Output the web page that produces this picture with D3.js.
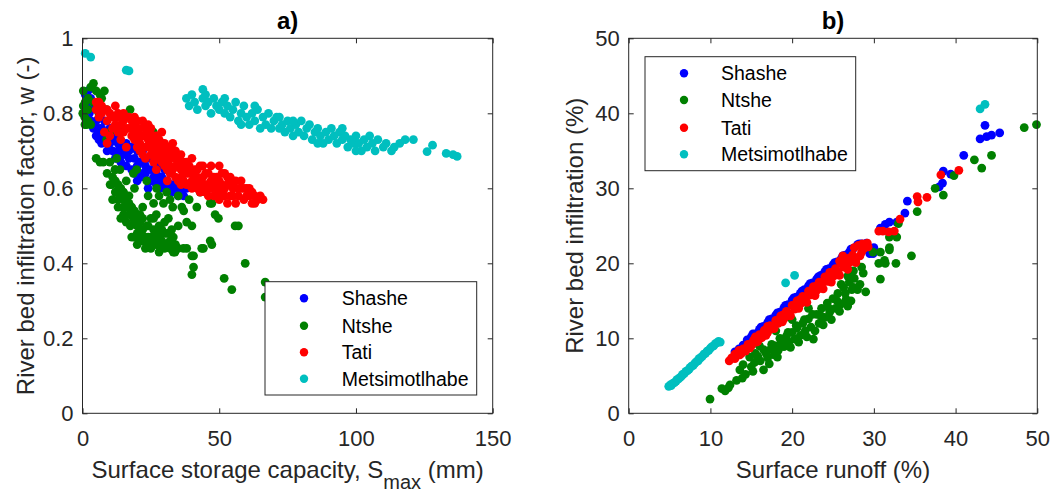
<!DOCTYPE html>
<html>
<head>
<meta charset="utf-8">
<script src="https://cdn.jsdelivr.net/npm/d3@7"></script>
<style>
  body { margin: 0; background: #fff; }
  text { font-family: "Liberation Sans", Arial, Helvetica, sans-serif; fill: #262626; }
</style>
</head>
<body>
<svg id="fig" width="1062" height="494"></svg>
<script>
// series names and colours (matlab style)
const seriesNames = ["Shashe", "Ntshe", "Tati", "Metsimotlhabe"];
const seriesColors = ["#0000ff", "#008000", "#ff0000", "#00bfbf"];

// panel a) : [Smax (mm), w (-)]
const aShashe = [[1,0.85],[2,0.86],[1.5,0.82],[3,0.84],[2.5,0.8],[4,0.82],[4,0.76],[5,0.74],[6,0.76],[6,0.73],[7,0.72],[8,0.74],[9,0.7],[10,0.72],[11,0.7],[12,0.68],[13,0.7],[14,0.67],[15,0.69],[16,0.66],[17,0.68],[18,0.65],[19,0.64],[20,0.66],[21,0.63],[22,0.64],[23,0.66],[24,0.62],[25,0.65],[26,0.63],[27,0.61],[28,0.63],[29,0.61],[30,0.6],[31,0.62],[32,0.6],[33,0.59],[34,0.61],[35,0.6],[36,0.59],[36.3,0.585],[37,0.58],[38,0.6],[12,0.74],[16,0.72],[20,0.7],[24,0.68],[28,0.66],[8,0.78],[10,0.76],[14,0.75],[18,0.71],[22,0.7],[26,0.68],[30,0.65],[6.4,0.755],[22.2,0.631],[29.6,0.613],[3,0.78],[5,0.78],[7,0.76],[9,0.73],[11,0.73],[13,0.72],[15,0.71],[17,0.7],[19,0.68],[21,0.67],[23,0.64],[25,0.62],[27,0.64],[29,0.63],[31,0.6],[33,0.61],[35,0.58],[37,0.6],[20,0.62],[24,0.6],[28,0.6]];
const aNtshe = [[0.3,0.86],[0.3,0.82],[0.1,0.8],[0.8,0.79],[0.9,0.77],[1.5,0.77],[2,0.84],[3,0.87],[4,0.88],[5,0.86],[6.4,0.85],[8,0.86],[2,0.81],[8.8,0.81],[17.4,0.81],[25.9,0.75],[10,0.75],[8.8,0.73],[6.4,0.67],[7.6,0.67],[10,0.67],[12.5,0.68],[11.9,0.65],[13.7,0.65],[10.1,0.61],[10.7,0.61],[18.6,0.64],[19.8,0.65],[23.5,0.62],[27.1,0.6],[30.8,0.59],[43,0.59],[46.7,0.56],[48.5,0.53],[55.8,0.5],[57,0.5],[12,0.59],[13,0.57],[14.9,0.55],[16,0.58],[15,0.53],[17,0.56],[18.6,0.52],[17.5,0.5],[19,0.54],[20,0.5],[21,0.53],[22,0.55],[21,0.48],[23.5,0.5],[22,0.46],[21,0.46],[24,0.47],[25,0.52],[26,0.49],[27,0.45],[28.4,0.44],[28,0.5],[29,0.46],[29.6,0.56],[30,0.48],[31.4,0.52],[32.6,0.49],[33.2,0.47],[33.8,0.43],[33.2,0.43],[36.3,0.55],[36.9,0.44],[38.1,0.51],[38.1,0.44],[40,0.42],[40.6,0.42],[41.8,0.55],[43.6,0.44],[44.2,0.44],[46.7,0.46],[47.3,0.45],[47.3,0.56],[49.7,0.52],[40.6,0.39],[40,0.37],[51.8,0.36],[54.6,0.33],[59.5,0.4],[66.8,0.35],[66.8,0.31],[14,0.6],[16,0.62],[19,0.6],[24,0.58],[26,0.56],[18,0.47],[20,0.45],[23,0.44],[25,0.44],[27,0.53],[31,0.45],[11,0.63],[12,0.62],[13,0.61],[14,0.58],[15,0.57],[16,0.55],[17,0.53],[18,0.55],[19,0.51],[20,0.53],[20,0.48],[21,0.51],[22,0.49],[22,0.52],[23,0.47],[24,0.5],[24,0.45],[25,0.47],[26,0.46],[26,0.52],[27,0.48],[28,0.47],[28,0.43],[29,0.49],[30,0.44],[30,0.51],[31,0.48],[32,0.44],[32,0.46],[34,0.45],[35,0.44],[35,0.5],[13,0.55],[15,0.59],[17,0.58],[12,0.65],[9,0.64],[11,0.57],[14,0.52],[16,0.51],[19,0.47],[5,0.68],[3,0.77],[1,0.83],[2,0.78],[6,0.8],[7,0.84],[4,0.83],[37,0.54],[40,0.5],[39,0.57],[45,0.6],[35,0.58],[33,0.55],[28,0.58],[32,0.57]];
const aTati = [[5,0.83],[6,0.83],[7,0.8],[8,0.75],[9,0.78],[10,0.8],[11,0.79],[12,0.77],[13,0.8],[14,0.79],[15,0.78],[16,0.79],[17,0.76],[18,0.74],[19,0.77],[20,0.75],[21,0.72],[22,0.74],[23,0.76],[24,0.71],[25,0.73],[26,0.7],[27,0.74],[28,0.69],[29,0.72],[30,0.7],[31,0.67],[32,0.71],[33,0.72],[34,0.68],[35,0.66],[36,0.69],[37,0.65],[38,0.67],[39,0.64],[40,0.68],[41,0.63],[42,0.65],[43,0.62],[44,0.66],[45,0.61],[46,0.64],[47,0.6],[48,0.63],[49,0.6],[50,0.62],[51,0.59],[52,0.64],[53,0.61],[54,0.58],[55,0.6],[56,0.62],[57,0.58],[58,0.6],[59,0.57],[60,0.6],[61,0.58],[62,0.56],[63,0.58],[64,0.57],[66,0.57],[12,0.82],[15,0.75],[18,0.78],[20,0.71],[22,0.69],[24,0.75],[26,0.67],[28,0.73],[30,0.66],[32,0.64],[34,0.7],[36,0.63],[38,0.61],[40,0.62],[42,0.6],[44,0.6],[46,0.58],[48,0.58],[50,0.57],[53,0.56],[56,0.56],[14,0.73],[16,0.71],[23,0.68],[27,0.65],[31,0.62],[47,0.66],[50,0.66],[54,0.63],[58,0.62],[10,0.74],[9,0.72],[8,0.81],[20,0.78],[25,0.69],[35,0.62],[44,0.63],[52,0.6],[60,0.58],[29,0.75],[24,0.73],[6,0.79],[7,0.82],[9,0.81],[11,0.76],[12,0.79],[13,0.75],[14,0.77],[15,0.8],[16,0.76],[17,0.79],[18,0.76],[19,0.73],[19,0.79],[20,0.73],[21,0.76],[21,0.7],[22,0.78],[23,0.71],[24,0.77],[25,0.71],[25,0.76],[26,0.72],[26,0.74],[27,0.68],[27,0.71],[28,0.71],[29,0.67],[29,0.69],[30,0.72],[30,0.68],[31,0.7],[31,0.65],[32,0.68],[32,0.66],[33,0.65],[33,0.69],[34,0.63],[34,0.66],[35,0.68],[36,0.65],[36,0.61],[37,0.67],[37,0.62],[38,0.64],[39,0.61],[39,0.66],[40,0.6],[41,0.65],[41,0.61],[42,0.63],[43,0.66],[43,0.59],[45,0.64],[45,0.59],[46,0.61],[47,0.62],[48,0.61],[49,0.63],[49,0.58],[51,0.61],[51,0.64],[52,0.58],[53,0.63],[55,0.58],[55,0.62],[57,0.6],[59,0.6],[61,0.6],[62,0.59],[63,0.56],[65,0.58],[5,0.81]];
const aMetsi = [[1,0.96],[3,0.95],[16,0.915],[17,0.913],[38,0.84],[39,0.82],[40,0.85],[41,0.83],[42,0.81],[44,0.864],[44,0.84],[45,0.82],[46,0.83],[47,0.8],[48,0.84],[49,0.82],[50,0.81],[51,0.83],[52,0.8],[53,0.82],[54,0.79],[55,0.81],[56,0.83],[57,0.78],[58,0.8],[59,0.82],[60,0.79],[61,0.77],[62,0.8],[63,0.78],[64,0.81],[65,0.76],[66,0.79],[67,0.77],[68,0.8],[69,0.76],[70,0.78],[71,0.79],[72,0.76],[73,0.77],[74,0.75],[75,0.78],[76,0.76],[77,0.74],[78,0.77],[79,0.75],[80,0.78],[81,0.74],[82,0.76],[83,0.77],[84,0.73],[85,0.75],[86,0.76],[87,0.74],[88,0.72],[89,0.75],[90,0.73],[91,0.76],[92,0.74],[93,0.72],[94,0.75],[95,0.73],[96,0.74],[97,0.71],[98,0.73],[99,0.72],[100,0.74],[101,0.72],[102,0.7],[103,0.73],[104,0.71],[105,0.74],[106,0.72],[107,0.7],[108,0.73],[110,0.71],[111,0.72],[113,0.7],[114,0.71],[116,0.72],[118,0.73],[121,0.73],[126,0.698],[128,0.715],[133,0.693],[135.5,0.69],[137,0.685],[45,0.85],[52,0.84],[58,0.77],[63,0.82],[72,0.79],[77,0.78],[86,0.72],[95,0.76],[100,0.7]];

// panel b) : [surface runoff (%), river bed infiltration (%)]
const bShashe = [[13.5,8.6],[14,9.1],[14.5,9.8],[15,10.2],[15.5,10.6],[16,11.2],[16.5,11.6],[17,12.1],[17.5,12.6],[18,13.1],[18.5,13.5],[19,14.1],[19.5,14.5],[20,15.1],[20.5,15.5],[21,16.0],[21.5,16.5],[22,17.0],[22.5,17.4],[23,17.9],[23.5,18.4],[24,18.9],[24.5,19.3],[25,19.8],[25.5,20.2],[26,20.6],[26.5,21.1],[27,21.5],[27.5,22.0],[28,22.5],[28.5,22.6],[29,21.9],[29.5,21.3],[30,22.1],[29.1,22.7],[29.9,21.3],[30.8,24.7],[31.4,25.2],[31.9,25.5],[32.8,25.5],[33.8,26.7],[34.1,28.3],[38,30.2],[38.4,30.7],[38.5,32.3],[39.4,31.9],[41,34.4],[43,36.6],[43.8,36.9],[44.4,37.1],[45.4,37.4],[43.6,38.4],[13,8.2],[15.2,10.6],[16.2,11.5],[17.2,12.5],[18.2,13.4],[19.2,14.4],[20.2,15.4],[21.2,16.3],[22.2,17.3],[23.2,18.2],[24.2,19.2],[25.2,20.1],[26.2,21.0],[27.2,21.9],[28.2,22.6]];
const bNtshe = [[9.95,1.9],[11.4,3.3],[11.8,3.0],[12.2,3.4],[12.4,3.8],[13.2,4.4],[13.6,5.8],[13.9,4.7],[14.3,5.2],[14.8,7.5],[15.0,6.2],[15.4,6.8],[15.8,7.6],[16.1,7.0],[16.5,5.8],[16.8,8.0],[17.0,7.4],[17.4,8.6],[17.8,7.8],[18.0,9.0],[18.3,8.4],[18.7,9.6],[19.0,8.9],[19.3,10.3],[19.6,9.5],[20.0,10.8],[20.3,9.9],[20.6,11.4],[21.0,10.4],[21.3,12.0],[21.6,11.0],[22.0,12.6],[22.3,11.5],[22.6,9.9],[23.0,13.2],[23.3,12.0],[23.6,14.0],[24.0,12.8],[24.3,14.7],[24.6,13.5],[25.0,15.3],[25.3,14.0],[25.6,16.0],[26.0,14.6],[26.3,16.8],[26.6,15.2],[27.0,17.5],[27.0,19.0],[27.3,16.5],[27.6,18.0],[28.0,16.5],[28.3,17.2],[28.7,18.7],[29.0,16.2],[18,11],[20,12.5],[22,14],[16,9],[14,6.5],[29.9,21.5],[30.6,20.0],[30.8,17.9],[30.8,21.5],[31.3,20.4],[31.4,20.0],[31.9,21.8],[31.9,22.1],[31.9,23.5],[32.7,20.0],[32.8,23.5],[33.0,25.3],[34.6,21.0],[35.3,26.9],[37.5,30.0],[38.5,29.1],[39.8,31.7],[42.3,33.8],[43.2,32.7],[44.4,34.4],[48.4,38.1],[49.9,38.5],[15.5,8.0],[16.5,8.5],[17.5,9.2],[18.5,10.0],[19.5,10.8],[20.5,11.7],[21.5,12.5],[22.5,13.2],[23.5,13.0],[24.5,14.0],[25.5,15.0],[26.5,16.0],[27.5,16.8],[18.2,7.5],[19.8,8.8],[21.8,10.2],[23.8,11.8],[25.8,13.6],[26.8,14.3],[27.2,15.0],[17.2,6.6],[15.2,5.6],[20.8,9.5],[22.8,11.0],[24.8,12.5],[28.5,19.5],[27.5,19.0],[26.8,18.3],[26,17.2]];
const bTati = [[12.3,7.0],[12.6,7.4],[13.0,7.3],[13.3,8.0],[13.6,7.8],[14.0,8.6],[14.3,8.3],[14.6,9.2],[15.0,9.0],[15.3,9.8],[15.6,9.5],[16.0,10.5],[16.3,10.1],[16.6,11.1],[17.0,10.8],[17.3,11.7],[17.6,11.3],[18.0,12.4],[18.3,12.0],[18.6,13.0],[19.0,12.6],[19.3,13.6],[19.6,13.3],[20.0,14.4],[20.3,13.9],[20.6,15.0],[21.0,14.6],[21.3,15.6],[21.6,15.2],[22.0,16.3],[22.3,15.8],[22.6,16.9],[23.0,16.4],[23.3,17.5],[23.6,17.1],[24.0,18.2],[24.3,17.6],[24.6,18.8],[25.0,18.3],[25.3,19.3],[25.6,18.9],[26.0,20.0],[26.3,19.5],[26.7,20.6],[27.0,20.1],[27.4,21.1],[27.8,20.5],[28.1,22.4],[28.5,21.5],[29.2,22.7],[28.8,22.0],[14.5,8.8],[16.5,10.6],[18.5,12.5],[20.5,14.4],[22.5,16.3],[24.5,18.0],[26.5,19.9],[17,11.6],[19,13.2],[21,15.2],[23,17.0],[25,18.8],[27,20.7],[15.5,10.2],[13.5,8.4],[30.6,24.3],[31.1,24.3],[31.8,24.2],[32.5,24.3],[33.2,25.9],[35.3,28.9],[35.4,28.2],[36.5,28.8],[38.2,31.8],[40.4,32.4],[13,7.9],[13.8,8.0],[14.8,8.7],[15.8,9.6],[16.8,10.4],[17.8,11.3],[18.8,12.2],[19.8,13.0],[20.8,14.0],[21.8,14.8],[22.8,15.7],[23.8,16.6],[24.8,17.5],[25.8,18.4],[26.8,19.2],[27.8,20.1],[28.3,21.0],[29.3,22.2],[15.2,9.5],[17.2,11.2],[19.2,12.9],[21.2,14.8],[23.2,16.6],[25.2,18.4],[27.2,20.3],[25.8,20.3],[26.2,21.0],[27.6,22.1],[28.6,22.6]];
const bMetsi = [[4.9,3.6],[5.1,3.8],[5.2,3.7],[5.4,4.0],[5.6,4.1],[5.8,4.3],[5.9,4.5],[6.1,4.6],[6.3,4.8],[6.5,5.0],[6.6,5.2],[6.8,5.3],[7.0,5.6],[7.2,5.7],[7.4,5.9],[7.5,6.1],[7.7,6.3],[7.9,6.4],[8.1,6.7],[8.3,6.9],[8.5,7.0],[8.6,7.3],[8.8,7.4],[9.0,7.6],[9.2,7.9],[9.4,8.0],[9.6,8.3],[9.8,8.4],[10.0,8.7],[10.2,8.9],[10.4,9.0],[10.6,9.3],[10.8,9.4],[11.0,9.6],[11.2,9.5],[19.2,17.4],[20.3,18.4],[43.0,40.6],[43.6,41.2]];

const aXTicks = [0, 50, 100, 150];
const aYTicks = [0, 0.2, 0.4, 0.6, 0.8, 1];
const bXTicks = [0, 10, 20, 30, 40, 50];
const bYTicks = [0, 10, 20, 30, 40, 50];

const svg = d3.select("#fig");
const axisCol = "#262626";

function panel(cfg) {
  const x = d3.scaleLinear().domain(cfg.xDomain).range([cfg.left, cfg.right]);
  const y = d3.scaleLinear().domain(cfg.yDomain).range([413.3, 38.3]);
  const g = svg.append("g");

  // points, in the matlab plotting order
  cfg.series.forEach((s, i) => {
    g.append("g").selectAll("circle").data(s).join("circle")
      .attr("cx", d => x(d[0])).attr("cy", d => y(d[1]))
      .attr("r", 4.4).attr("fill", seriesColors[i]);
  });

  // box
  g.append("rect").attr("x", cfg.left).attr("y", 38.3)
    .attr("width", cfg.right - cfg.left).attr("height", 413.3 - 38.3)
    .attr("fill", "none").attr("stroke", axisCol).attr("stroke-width", 1);

  const styleAx = sel => {
    sel.select(".domain").remove();
    sel.selectAll(".tick line").attr("stroke", axisCol);
    sel.selectAll("text").style("font-size", "22px").attr("fill", axisCol);
  };
  g.append("g").attr("transform", "translate(0,413.3)")
    .call(d3.axisBottom(x).tickValues(cfg.xTicks).tickSize(-5).tickPadding(17).tickFormat(d3.format("")))
    .call(styleAx);
  g.append("g").attr("transform", "translate(0,38.3)")
    .call(d3.axisTop(x).tickValues(cfg.xTicks).tickSize(-5).tickFormat(""))
    .call(styleAx);
  g.append("g").attr("transform", `translate(${cfg.left},0)`)
    .call(d3.axisLeft(y).tickValues(cfg.yTicks).tickSize(-5).tickPadding(9).tickFormat(d3.format("")))
    .call(styleAx);
  g.append("g").attr("transform", `translate(${cfg.right},0)`)
    .call(d3.axisRight(y).tickValues(cfg.yTicks).tickSize(-5).tickFormat(""))
    .call(styleAx);

  // title
  g.append("text").attr("x", (cfg.left + cfg.right) / 2).attr("y", 29)
    .attr("text-anchor", "middle").style("font-size", "24px").style("font-weight", "bold")
    .style("fill", "#000").text(cfg.title);

  // x label
  const xl = g.append("text").attr("x", (cfg.left + cfg.right) / 2).attr("y", 478)
    .attr("text-anchor", "middle").style("font-size", "24px");
  cfg.xLabel.forEach(p => {
    const t = xl.append("tspan").text(p.t);
    if (p.sub) t.attr("dy", 11).style("font-size", "20px");
    if (p.after) t.attr("dy", -11);
  });

  // y label
  g.append("text").attr("transform", `translate(${cfg.yLabelX},${(38.3 + 413.3) / 2}) rotate(-90)`)
    .attr("text-anchor", "middle").style("font-size", "24px").text(cfg.yLabel);

  // legend
  const L = cfg.legend;
  const lg = g.append("g");
  lg.append("rect").attr("x", L.x0).attr("y", L.y0).attr("width", L.x1 - L.x0).attr("height", L.y1 - L.y0)
    .attr("fill", "#fff").attr("stroke", axisCol).attr("stroke-width", 1);
  seriesNames.forEach((n, i) => {
    const cy = L.rows[i];
    lg.append("circle").attr("cx", L.mx).attr("cy", cy).attr("r", 4.2).attr("fill", seriesColors[i]);
    lg.append("text").attr("x", L.tx).attr("y", cy).attr("dy", "0.35em")
      .style("font-size", "19.5px").style("fill", "#000").text(n);
  });
}

panel({
  left: 82.5, right: 492.7, xDomain: [0, 150], yDomain: [0, 1],
  xTicks: aXTicks, yTicks: aYTicks, title: "a)",
  series: [aShashe, aNtshe, aTati, aMetsi],
  xLabel: [{t: "Surface storage capacity, S"}, {t: "max", sub: true}, {t: " (mm)", after: true}],
  yLabel: "River bed infiltration factor, w (-)", yLabelX: 34,
  legend: {x0: 265, x1: 476.7, y0: 281.7, y1: 395, mx: 304, tx: 341.7, rows: [298.3, 325.7, 352.3, 378.7]}
});

panel({
  left: 628.7, right: 1037.3, xDomain: [0, 50], yDomain: [0, 50],
  xTicks: bXTicks, yTicks: bYTicks, title: "b)",
  series: [bShashe, bNtshe, bTati, bMetsi],
  xLabel: [{t: "Surface runoff (%)"}],
  yLabel: "River bed infiltration (%)", yLabelX: 583,
  legend: {x0: 645, x1: 855.7, y0: 56.7, y1: 170.7, mx: 684, tx: 721, rows: [73.3, 100, 127.7, 154.3]}
});
</script>
</body>
</html>
